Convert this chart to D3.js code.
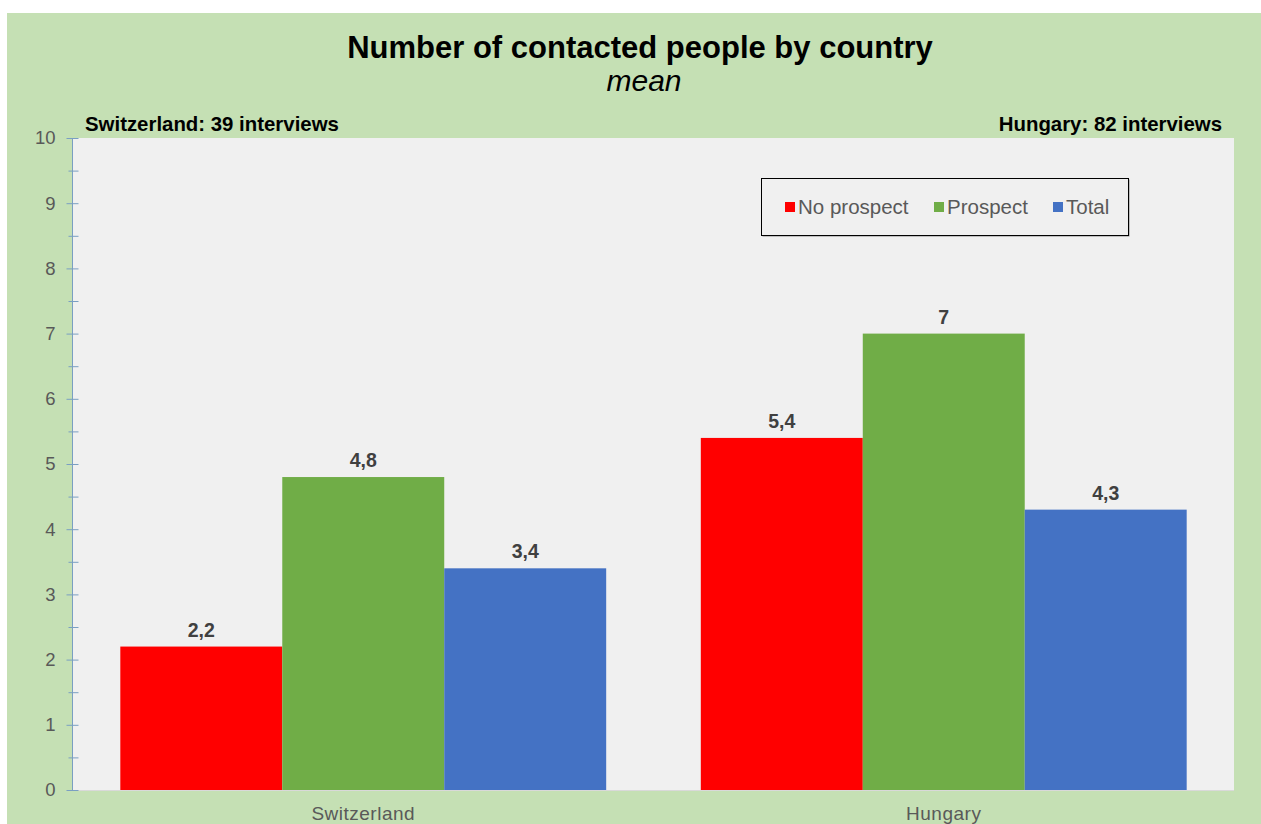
<!DOCTYPE html>
<html>
<head>
<meta charset="utf-8">
<script src="https://cdn.jsdelivr.net/npm/d3@7.9.0/dist/d3.min.js"></script>
<style>
  html, body { margin: 0; padding: 0; background: #c5e0b4; overflow: hidden; }
  svg { display: block; font-family: "Liberation Sans", Arial, sans-serif; }
</style>
</head>
<body>
<svg id="chart" width="1261" height="824"></svg>
<script>
const countries = ['Switzerland', 'Hungary'];
const seriesNames = ['No prospect', 'Prospect', 'Total'];
const seriesColors = ['#ff0000', '#70ad47', '#4472c4'];
const noProspect = [2.2, 5.4];
const prospect = [4.8, 7];
const total = [3.4, 4.3];
const interviews = [39, 82];
const yTicks = [0, 1, 2, 3, 4, 5, 6, 7, 8, 9, 10];

const svg = d3.select('#chart');
const W = 1261, H = 824;
const plot = { left: 73, right: 1234, top: 138, bottom: 790 };

// green panel with white strip top/left
svg.append('rect').attr('width', W).attr('height', H).attr('fill', '#fff');
svg.append('rect').attr('x', 7).attr('y', 13).attr('width', W - 7).attr('height', H - 13)
  .attr('fill', '#c5e0b4');

// plot background
svg.append('rect').attr('x', plot.left).attr('y', plot.top)
  .attr('width', plot.right - plot.left).attr('height', plot.bottom - plot.top)
  .attr('fill', '#f0f0f0');

const x0 = d3.scaleBand().domain(countries).range([plot.left, plot.right])
  .paddingInner(0.163).paddingOuter(0.0815);
const x1 = d3.scaleBand().domain(seriesNames).range([0, x0.bandwidth()]);
const y = d3.scaleLinear().domain([0, 10]).range([plot.bottom, plot.top]);

const rows = countries.map((c, i) => ({
  country: c,
  values: [noProspect[i], prospect[i], total[i]]
}));

const groups = svg.append('g').selectAll('g').data(rows).join('g')
  .attr('transform', d => `translate(${x0(d.country)},0)`);

groups.selectAll('rect').data(d => d.values.map((v, k) => ({ name: seriesNames[k], v, k })))
  .join('rect')
  .attr('x', d => x1(d.name))
  .attr('y', d => y(d.v))
  .attr('width', x1.bandwidth())
  .attr('height', d => y(0) - y(d.v))
  .attr('fill', d => seriesColors[d.k]);

groups.selectAll('text').data(d => d.values.map((v, k) => ({ name: seriesNames[k], v })))
  .join('text')
  .attr('x', d => x1(d.name) + x1.bandwidth() / 2)
  .attr('y', d => y(d.v) - 10)
  .attr('text-anchor', 'middle')
  .attr('font-size', 19.5).attr('font-weight', 'bold').attr('fill', '#404040')
  .text(d => String(d.v).replace('.', ','));

// bottom line
svg.append('line').attr('x1', plot.left).attr('x2', plot.right)
  .attr('y1', plot.bottom + 0.5).attr('y2', plot.bottom + 0.5)
  .attr('stroke', '#d9d9d9');

// y axis
const axisColor = '#7a9fc2';
const yAxis = svg.append('g').attr('transform', `translate(${plot.left - 0.5},0)`)
  .call(d3.axisLeft(y).tickValues(yTicks).tickSize(6).tickPadding(11).tickFormat(d3.format('d')));
yAxis.select('.domain').attr('stroke', axisColor).attr('d', `M0,${plot.bottom}V${plot.top}`);
yAxis.selectAll('.tick line').attr('stroke', axisColor).attr('x1', 6);
yAxis.selectAll('.tick text').attr('font-size', 18.5).attr('fill', '#595959')
  .attr('font-family', '"Liberation Sans", Arial, sans-serif');

const minor = svg.append('g').attr('transform', `translate(${plot.left - 0.5},0)`)
  .call(d3.axisLeft(y).tickValues(yTicks.slice(0, -1).map(t => t + 0.5)).tickSize(4).tickFormat(''));
minor.select('.domain').remove();
minor.selectAll('.tick line').attr('stroke', axisColor).attr('x1', 6);

// x labels
svg.append('g').selectAll('text').data(countries).join('text')
  .attr('x', d => x0(d) + x0.bandwidth() / 2)
  .attr('y', 820)
  .attr('text-anchor', 'middle')
  .attr('font-size', 19).attr('fill', '#595959')
  .attr('font-family', '"Liberation Sans Narrow", "Liberation Sans", Arial, sans-serif')
  .attr('letter-spacing', 0.5)
  .text(d => d);

// titles
svg.append('text').attr('x', 640).attr('y', 58).attr('text-anchor', 'middle')
  .attr('font-size', 31).attr('font-weight', 'bold').attr('fill', '#000')
  .text('Number of contacted people by country');
svg.append('text').attr('x', 644).attr('y', 91).attr('text-anchor', 'middle')
  .attr('font-size', 30).attr('font-style', 'italic').attr('fill', '#000')
  .text('mean');

svg.append('text').attr('x', 85).attr('y', 131)
  .attr('font-size', 20.4).attr('font-weight', 'bold').attr('fill', '#000')
  .text(`${countries[0]}: ${interviews[0]} interviews`);
svg.append('text').attr('x', 1222).attr('y', 131).attr('text-anchor', 'end')
  .attr('font-size', 20.4).attr('font-weight', 'bold').attr('fill', '#000')
  .text(`${countries[1]}: ${interviews[1]} interviews`);

// legend
const legend = svg.append('g').attr('transform', 'translate(761,178)');
legend.append('rect').attr('x', 1.5).attr('y', 1.5).attr('width', 367).attr('height', 57)
  .attr('fill', '#8c8c8c');
legend.append('rect').attr('x', 0.5).attr('y', 0.5).attr('width', 367).attr('height', 57)
  .attr('fill', '#f0f0f0').attr('stroke', '#000');
const legendX = [24, 173, 292];
const items = legend.selectAll('g').data(seriesNames).join('g')
  .attr('transform', (d, i) => `translate(${legendX[i]},29)`);
items.append('rect').attr('x', 0).attr('y', -5).attr('width', 10).attr('height', 10)
  .attr('fill', (d, i) => seriesColors[i]);
items.append('text').attr('x', 13).attr('y', 7)
  .attr('font-size', 20.5).attr('fill', '#595959')
  .text(d => d);
</script>
</body>
</html>
